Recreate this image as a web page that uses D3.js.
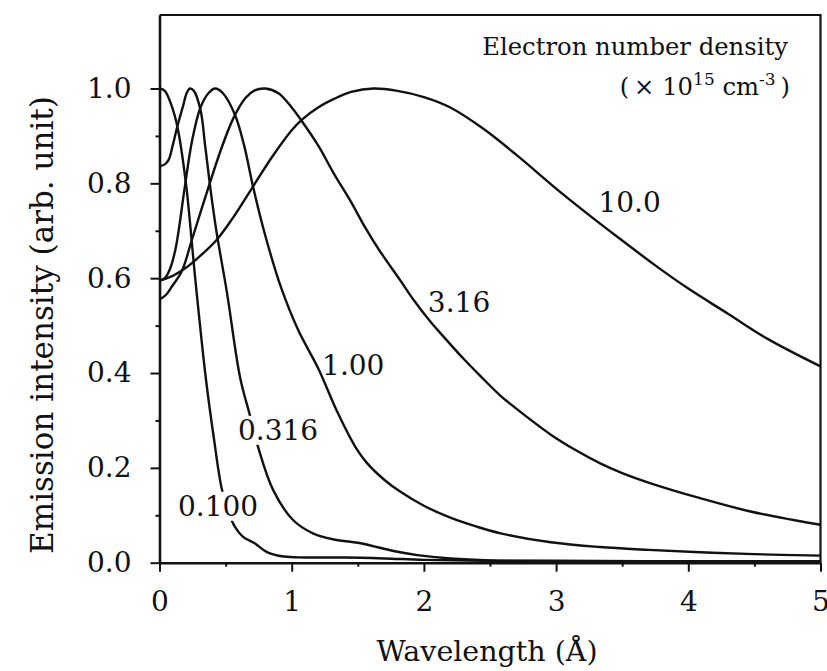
<!DOCTYPE html>
<meta charset="utf-8">
<script src="https://d3js.org/d3.v7.min.js"></script>
<style>
  body { margin: 0; background: #fff; }
  text { font-family: "DejaVu Serif", serif; fill: #111; }
</style>
<div id="chart"></div>

<script>
  const width = 827
  const height = 671

  // curve data: wavelength (Å) and normalised intensity
  const wl_0100  = [0, 0.04, 0.09, 0.135, 0.2, 0.27, 0.35, 0.41, 0.47, 0.52, 0.57, 0.63, 0.72, 0.81, 0.94, 1.1, 1.4, 1.7, 2.0, 2.5, 3.0, 4.0, 5.0]
  const int_0100 = [1.0, 0.995, 0.965, 0.92, 0.80, 0.60, 0.39, 0.265, 0.157, 0.108, 0.076, 0.055, 0.041, 0.023, 0.013, 0.011, 0.011, 0.009, 0.006, 0.004, 0.003, 0.002, 0.002]

  const wl_0316  = [0, 0.04, 0.07, 0.1, 0.135, 0.18, 0.205, 0.23, 0.26, 0.31, 0.345, 0.38, 0.43, 0.51, 0.61, 0.68, 0.75, 0.86, 1.01, 1.16, 1.32, 1.52, 1.69, 1.82, 1.95, 2.2, 2.5, 3.0, 4.0, 5.0]
  const int_0316 = [0.836, 0.84, 0.85, 0.88, 0.92, 0.965, 0.99, 1.0, 0.995, 0.955, 0.88, 0.80, 0.70, 0.57, 0.39, 0.315, 0.24, 0.153, 0.09, 0.062, 0.049, 0.041, 0.030, 0.022, 0.016, 0.009, 0.005, 0.004, 0.003, 0.003]

  const wl_100  = [0, 0.04, 0.08, 0.12, 0.15, 0.19, 0.25, 0.31, 0.37, 0.42, 0.48, 0.57, 0.64, 0.71, 0.8, 0.92, 1.05, 1.2, 1.35, 1.48, 1.57, 1.7, 1.82, 2.0, 2.2, 2.4, 2.58, 2.96, 3.33, 3.7, 4.09, 4.5, 5.0]
  const int_100 = [0.595, 0.60, 0.62, 0.66, 0.71, 0.79, 0.895, 0.96, 0.99, 1.0, 0.99, 0.945, 0.88, 0.79, 0.69, 0.58, 0.49, 0.41, 0.315, 0.245, 0.21, 0.175, 0.15, 0.12, 0.095, 0.076, 0.062, 0.043, 0.033, 0.027, 0.022, 0.018, 0.015]

  const wl_316  = [0, 0.05, 0.1, 0.168, 0.244, 0.3, 0.38, 0.47, 0.56, 0.65, 0.72, 0.8, 0.9, 1.0, 1.08, 1.2, 1.32, 1.44, 1.56, 1.66, 1.82, 1.92, 2.05, 2.17, 2.3, 2.43, 2.58, 2.8, 2.96, 3.15, 3.33, 3.5, 3.71, 4.09, 4.47, 5.0]
  const int_316 = [0.555, 0.565, 0.585, 0.614, 0.68, 0.73, 0.80, 0.875, 0.938, 0.98, 0.996, 1.0, 0.99, 0.96, 0.93, 0.88, 0.82, 0.765, 0.705, 0.66, 0.596, 0.555, 0.508, 0.47, 0.43, 0.393, 0.352, 0.303, 0.27, 0.237, 0.21, 0.189, 0.168, 0.136, 0.108, 0.08]

  const wl_1000  = [0, 0.1, 0.2, 0.3, 0.43, 0.55, 0.7, 0.85, 1.0, 1.08, 1.2, 1.32, 1.45, 1.62, 1.8, 2.0, 2.2, 2.45, 2.7, 3.03, 3.25, 3.45, 3.75, 4.0, 4.3, 4.6, 5.0]
  const int_1000 = [0.595, 0.605, 0.622, 0.645, 0.68, 0.725, 0.79, 0.855, 0.912, 0.935, 0.96, 0.978, 0.993, 1.0, 0.995, 0.982, 0.96, 0.915, 0.86, 0.782, 0.733, 0.69, 0.627, 0.578, 0.525, 0.472, 0.414]

  const densities = ["0.100", "0.316", "1.00", "3.16", "10.0"]
  // where each density label sits, in data units (left edge, baseline)
  const labelX = [0.14, 0.594, 1.23, 2.03, 3.32]
  const labelY = [0.099, 0.259, 0.396, 0.529, 0.740]

  const xMajor = [0, 1, 2, 3, 4, 5]
  const xMinor = [0.5, 1.5, 2.5, 3.5, 4.5]
  const yMajor = [0, 0.2, 0.4, 0.6, 0.8, 1.0]
  const yMinor = [0.1, 0.3, 0.5, 0.7, 0.9]

  const curves = [
    d3.zip(wl_0100, int_0100),
    d3.zip(wl_0316, int_0316),
    d3.zip(wl_100, int_100),
    d3.zip(wl_316, int_316),
    d3.zip(wl_1000, int_1000)
  ]

  const svg = d3.select("#chart").append("svg")
    .attr("width", width)
    .attr("height", height)

  const x = d3.scaleLinear().domain([0, 5]).range([159.5, 820.5])
  const y = d3.scaleLinear().domain([0, 1.155]).range([562.7, 15])

  // frame top + right
  svg.append("path")
    .attr("d", `M${x(0)},${y(1.155)}H${x(5)}V${y(0)}`)
    .attr("fill", "none").attr("stroke", "#111").attr("stroke-width", 2.2)

  const line = d3.line()
    .x(d => x(d[0]))
    .y(d => y(d[1]))
    .curve(d3.curveCatmullRom.alpha(0.5))

  svg.append("g").selectAll("path")
    .data(curves)
    .join("path")
    .attr("d", line)
    .attr("fill", "none")
    .attr("stroke", "#111")
    .attr("stroke-width", 2.4)

  // axes
  svg.append("g")
    .attr("transform", `translate(0,${y(0)})`)
    .call(d3.axisBottom(x).tickValues(xMajor).tickSize(9).tickSizeOuter(0).tickPadding(19).tickFormat(d3.format("d")))
  svg.append("g")
    .attr("transform", `translate(0,${y(0)})`)
    .call(d3.axisBottom(x).tickValues(xMinor).tickSize(4).tickSizeOuter(0).tickFormat(""))
    .select(".domain").remove()

  svg.append("g")
    .attr("transform", `translate(${x(0)},0)`)
    .call(d3.axisLeft(y).tickValues(yMajor).tickSize(9).tickSizeOuter(0).tickPadding(19).tickFormat(d3.format(".1f")))
  svg.append("g")
    .attr("transform", `translate(${x(0)},0)`)
    .call(d3.axisLeft(y).tickValues(yMinor).tickSize(4).tickSizeOuter(0).tickFormat(""))
    .select(".domain").remove()

  svg.selectAll(".domain").attr("stroke", "#111").attr("stroke-width", 2.6)
  svg.selectAll(".tick line").attr("stroke", "#111").attr("stroke-width", 2)
  svg.selectAll(".tick text").style("font-family", '"DejaVu Serif", serif').style("font-size", "28px").attr("fill", "#111")

  // density labels; the two low ones break their curve
  const labels = svg.append("g").selectAll("g")
    .data(densities)
    .join("g")
  labels.append("text")
    .attr("x", (d, i) => x(labelX[i]))
    .attr("y", (d, i) => y(labelY[i]))
    .style("font-size", "28px")
    .text(d => d)
  labels.filter((d, i) => i < 2).each(function () {
    const g = d3.select(this)
    const b = g.select("text").node().getBBox()
    g.insert("rect", "text")
      .attr("x", b.x - 2).attr("y", b.y + 2)
      .attr("width", b.width + 4).attr("height", b.height - 4)
      .attr("fill", "#fff")
  })

  // legend title
  svg.append("text")
    .attr("x", 788).attr("y", 55)
    .attr("text-anchor", "end")
    .style("font-size", "24.3px")
    .text("Electron number density")
  const unit = svg.append("text")
    .attr("x", 790).attr("y", 95)
    .attr("text-anchor", "end")
    .style("font-size", "24.3px")
  unit.append("tspan").text("(\u2009× 10")
  unit.append("tspan").attr("dy", -10).style("font-size", "17px").text("15")
  unit.append("tspan").attr("dy", 10).text(" cm")
  unit.append("tspan").attr("dy", -10).style("font-size", "17px").text("-3")
  unit.append("tspan").attr("dy", 10).text("\u2009)")

  // axis titles
  svg.append("text")
    .attr("x", 487).attr("y", 661)
    .attr("text-anchor", "middle")
    .style("font-size", "28.5px")
    .text("Wavelength (Å)")

  svg.append("text")
    .attr("transform", "translate(53,325) rotate(-90)")
    .attr("text-anchor", "middle")
    .style("font-size", "31px")
    .text("Emission intensity (arb. unit)")
</script>
